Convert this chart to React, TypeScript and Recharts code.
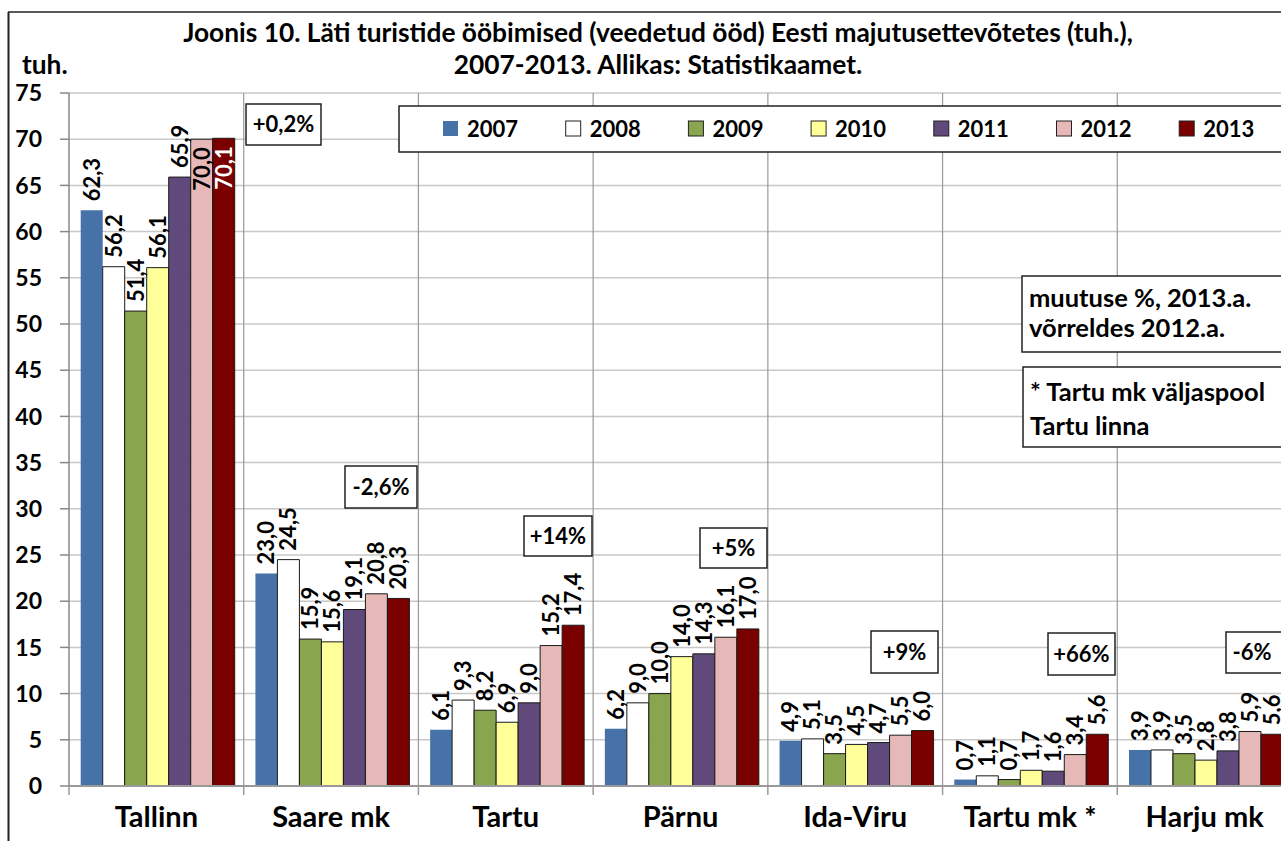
import React from 'react';
import { BarChart, Bar, XAxis, YAxis, CartesianGrid, LabelList } from 'recharts';

const categories = ['Tallinn', 'Saare mk', 'Tartu', 'Pärnu', 'Ida-Viru', 'Tartu mk *', 'Harju mk'];
const years = ['2007', '2008', '2009', '2010', '2011', '2012', '2013'];
const colors = ['#4672A8', '#FFFFFF', '#89A54E', '#FFFF99', '#604A7B', '#E6B9B8', '#7A0000'];

const v2007 = [62.3, 23.0, 6.1, 6.2, 4.9, 0.7, 3.9];
const v2008 = [56.2, 24.5, 9.3, 9.0, 5.1, 1.1, 3.9];
const v2009 = [51.4, 15.9, 8.2, 10.0, 3.5, 0.7, 3.5];
const v2010 = [56.1, 15.6, 6.9, 14.0, 4.5, 1.7, 2.8];
const v2011 = [65.9, 19.1, 9.0, 14.3, 4.7, 1.6, 3.8];
const v2012 = [70.0, 20.8, 15.2, 16.1, 5.5, 3.4, 5.9];
const v2013 = [70.1, 20.3, 17.4, 17.0, 6.0, 5.6, 5.6];
const seriesValues = [v2007, v2008, v2009, v2010, v2011, v2012, v2013];

const yTicks = [0, 5, 10, 15, 20, 25, 30, 35, 40, 45, 50, 55, 60, 65, 70, 75];

// muutuse % 2013 vs 2012, boxes placed by hand like in the original
const changes = [
  { text: '+0,2%', x: 246, y: 104, w: 75, h: 41 },
  { text: '-2,6%', x: 345, y: 466, w: 72, h: 42 },
  { text: '+14%', x: 524, y: 516, w: 68, h: 40 },
  { text: '+5%', x: 700, y: 528, w: 67, h: 40 },
  { text: '+9%', x: 871, y: 631, w: 67, h: 42 },
  { text: '+66%', x: 1048, y: 633, w: 67, h: 42 },
  { text: '-6%', x: 1226, y: 632, w: 52, h: 41 },
];

const data = categories.map((name, i) => {
  const row: Record<string, string | number> = { name };
  years.forEach((y, s) => {
    row[y] = seriesValues[s][i];
  });
  return row;
});

const FONT = 'Lato, "Open Sans", sans-serif';
const PLOT_LEFT = 69;
const PLOT_W = 1223;
const BAND = PLOT_W / categories.length;

const fmt = (v: number) => v.toFixed(1).replace('.', ',');

const makeLabel = (whiteInside: boolean) => (props: any) => {
  const { x, y, width, value } = props;
  const v = Number(value);
  const cx = Number(x) + Number(width) / 2;
  const inside = v > 68;
  const ty = inside ? Number(y) + 8 : Number(y) - 9;
  return (
    <text
      x={cx}
      y={ty}
      transform={`rotate(-90 ${cx} ${ty})`}
      textAnchor={inside ? 'end' : 'start'}
      dy="0.36em"
      fontFamily={FONT}
      fontWeight="bold"
      fontSize={22}
      fill={inside && whiteInside ? '#fff' : '#000'}
    >
      {fmt(v)}
    </text>
  );
};

const CategoryTick = (props: any) => {
  const { x, y, payload } = props;
  const bx = x - BAND / 2;
  return (
    <g>
      <line x1={bx} y1={y} x2={bx} y2={y + 9} stroke="#999" strokeWidth={1.5} />
      <text x={x} y={y + 41} textAnchor="middle" fontFamily={FONT} fontWeight="bold" fontSize={29} fill="#000">
        {payload.value}
      </text>
    </g>
  );
};

const boxText = { fontFamily: FONT, fontWeight: 'bold' as const, fontSize: 22, fill: '#000' };
const bigText = { ...boxText, fontSize: 26.3 };
const noteText = { ...boxText, fontSize: 25.5 };

export default function App() {
  return (
    <div style={{ position: 'fixed', left: 0, top: 0, width: 1281, height: 841, overflow: 'hidden', background: '#fff' }}>
      <BarChart
        width={1340}
        height={841}
        data={data}
        margin={{ top: 93, right: 48, bottom: 0, left: 0 }}
        barCategoryGap="6.7%"
        barGap={0}
      >
        <CartesianGrid vertical={false} stroke="#C8C8C8" strokeWidth={1.5} />
        <CartesianGrid
          horizontal={false}
          stroke="#999"
          strokeWidth={1.2}
          verticalCoordinatesGenerator={(p: any) => {
            const left = p?.offset?.left ?? PLOT_LEFT;
            const w = p?.offset?.width ?? PLOT_W;
            return categories.map((_, i) => left + (w * i) / categories.length).slice(1);
          }}
        />
        <XAxis
          dataKey="name"
          height={55}
          interval={0}
          tickLine={false}
          tickSize={0}
          tickMargin={0}
          axisLine={{ stroke: '#999', strokeWidth: 2 }}
          tick={<CategoryTick />}
        />
        <YAxis
          width={69}
          domain={[0, 75]}
          ticks={yTicks}
          interval={0}
          tickSize={9}
          tickMargin={18}
          axisLine={{ stroke: '#888', strokeWidth: 1.5 }}
          tickLine={{ stroke: '#888', strokeWidth: 1.5 }}
          tick={{ fontFamily: FONT, fontWeight: 'bold', fontSize: 23, fill: '#000' }}
        />
        {years.map((yr, s) => (
          <Bar
            key={yr}
            dataKey={yr}
            fill={colors[s]}
            stroke={s === 0 ? 'none' : '#1a1a1a'}
            strokeWidth={1}
            isAnimationActive={false}
          >
            <LabelList dataKey={yr} content={makeLabel(s === 6)} />
          </Bar>
        ))}
      </BarChart>

      <svg
        width={1281}
        height={841}
        style={{ position: 'absolute', left: 0, top: 0, pointerEvents: 'none' }}
      >
        <line x1={8} y1={12} x2={1281} y2={12} stroke="#222" strokeWidth={1.5} />
        <line x1={8.5} y1={12} x2={8.5} y2={841} stroke="#222" strokeWidth={2} />

        <text x={658} y={42} textAnchor="middle" {...bigText}>
          Joonis 10. Läti turistide ööbimised (veedetud ööd) Eesti majutusettevõtetes (tuh.),
        </text>
        <text x={658} y={74} textAnchor="middle" {...bigText}>
          2007-2013. Allikas: Statistikaamet.
        </text>
        <text x={22} y={74} {...bigText}>
          tuh.
        </text>

        <rect x={399} y={106} width={1000} height={46} fill="#fff" stroke="#222" strokeWidth={1.5} />
        {years.map((yr, s) => (
          <g key={yr}>
            <rect
              x={443 + s * 122.7}
              y={121}
              width={15}
              height={15}
              fill={colors[s]}
              stroke={s === 0 ? 'none' : '#222'}
              strokeWidth={1}
            />
            <text x={467 + s * 122.7} y={137} {...boxText}>
              {yr}
            </text>
          </g>
        ))}

        {changes.map((c) => (
          <g key={c.text}>
            <rect x={c.x} y={c.y} width={c.w + (c.text === '-6%' ? 60 : 0)} height={c.h} fill="#fff" stroke="#222" strokeWidth={1.5} />
            <text x={c.x + c.w / 2} y={c.y + c.h / 2} dy="0.36em" textAnchor="middle" {...boxText}>
              {c.text}
            </text>
          </g>
        ))}

        <rect x={1022} y={276} width={300} height={76} fill="#fff" stroke="#222" strokeWidth={1.5} />
        <text x={1029} y={307} {...noteText}>muutuse %, 2013.a.</text>
        <text x={1029} y={337} {...noteText}>võrreldes 2012.a.</text>

        <rect x={1023} y={367} width={300} height={80} fill="#fff" stroke="#222" strokeWidth={1.5} />
        <text x={1030} y={401} {...noteText}>* Tartu mk väljaspool</text>
        <text x={1030} y={435} {...noteText}>Tartu linna</text>
      </svg>
    </div>
  );
}
